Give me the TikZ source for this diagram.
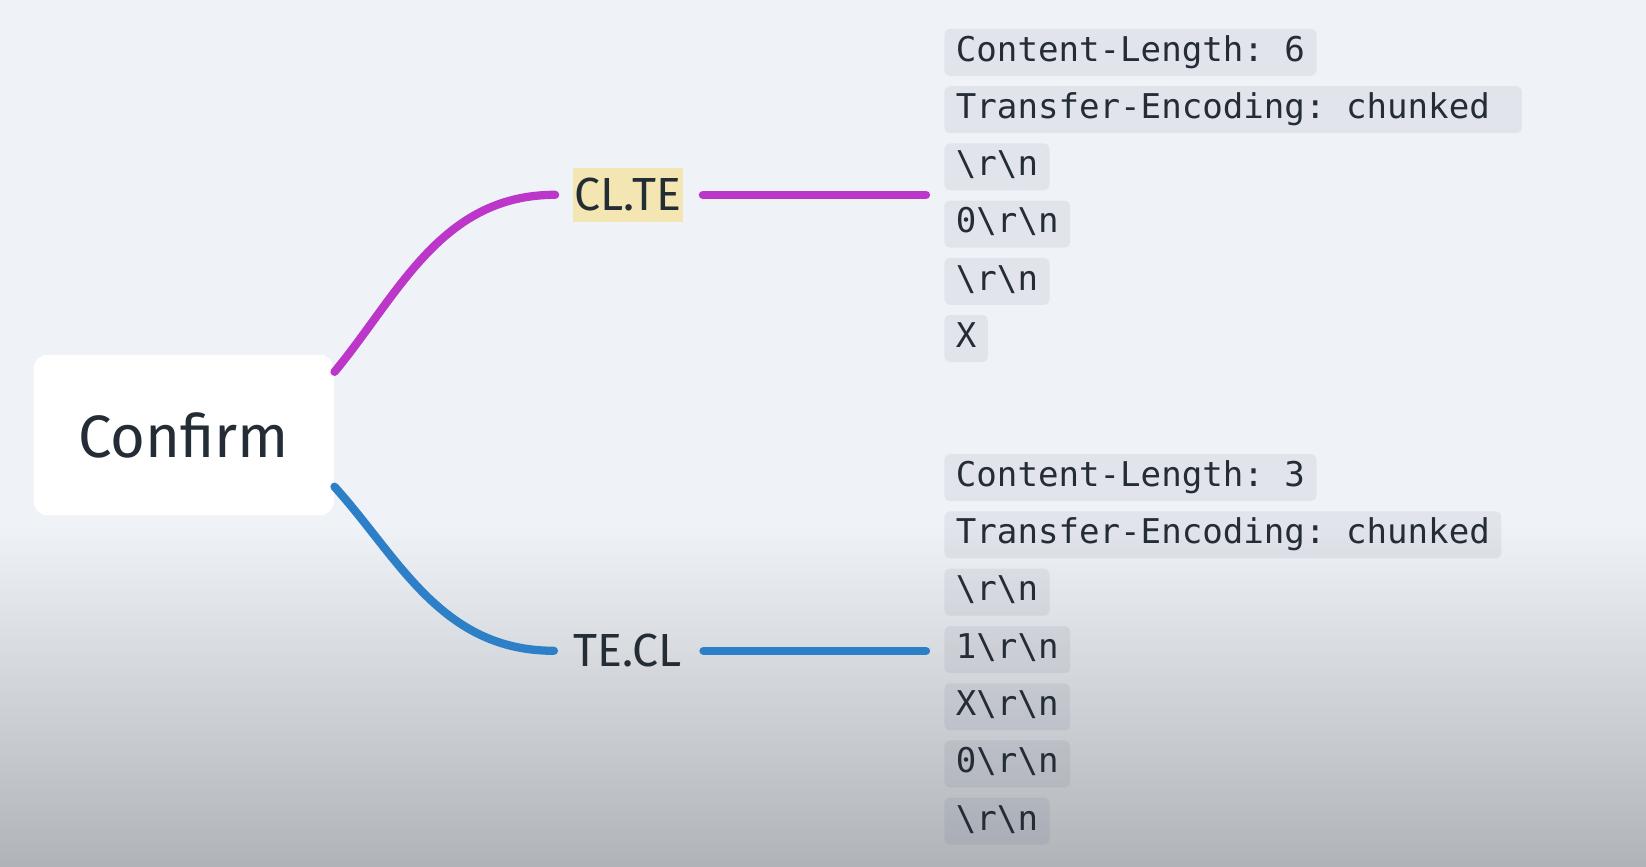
\documentclass[tikz,border=0pt]{standalone}
\usepackage{fontspec}
\setmainfont{Fira Sans}
\newfontfamily\codefont{DejaVu Sans Mono}
\definecolor{bgtop}{RGB}{239,242,246}
\definecolor{bgbot}{RGB}{176,180,185}
\definecolor{ink}{RGB}{36,44,54}
\definecolor{mline}{RGB}{187,54,201}
\definecolor{bline}{RGB}{45,128,200}
\definecolor{hlyel}{RGB}{244,230,178}
\newcommand{\crlf}{\textbackslash r\textbackslash n}
\tikzset{
  vroot/.style={fill=white,rounded corners=4pt,minimum width=3cm,minimum height=1.606cm,font=\fontsize{17}{20}\selectfont,text=ink},
  vbr/.style={inner xsep=0.02cm,inner ysep=0pt,minimum height=0.535cm,font=\fontsize{13.2}{15}\selectfont,text=ink},
  vcode/.style={anchor=west,fill=black!80!blue,fill opacity=0.055,text opacity=1,rounded corners=1.5pt,inner xsep=0.115cm,inner ysep=0pt,minimum height=0.47cm,text height=7pt,text depth=2pt,font=\codefont\fontsize{9.7}{11}\selectfont\frenchspacing,text=ink},
  em/.style={draw=mline,line width=2.35pt,line cap=round},
  eb/.style={draw=bline,line width=2.35pt,line cap=round},
}

\begin{document}
\begin{tikzpicture}[x=0.01cm,y=-0.01cm]
\useasboundingbox (0,0) rectangle (1646,867);
\fill[bgtop] (0,0) rectangle (1646,526);
\shade[top color=bgtop,bottom color=bgbot] (0,525) rectangle (1646,867);
\node[vroot] (croot) at (183.7,435.1) {Confirm};
\node[vbr,fill=hlyel] (clte) at (628,194.8) {CL.TE};
\node[vbr] (tecl) at (627.7,650.8) {TE.CL};
\node[vcode] (ta1) at (943.7,52.5) {Content-Length: 6};
\node[vcode] (ta2) at (943.7,109.7) {Transfer-Encoding: chunked\hphantom{d}};
\node[vcode] (ta3) at (943.7,166.9) {\crlf};
\node[vcode] (ta4) at (943.7,224.1) {0\crlf};
\node[vcode] (ta5) at (943.7,281.3) {\crlf};
\node[vcode] (ta6) at (943.7,338.5) {X};
\node[vcode] (tb1) at (943.7,477.6) {Content-Length: 3};
\node[vcode] (tb2) at (943.7,534.8) {Transfer-Encoding: chunked};
\node[vcode] (tb3) at (943.7,592.2) {\crlf};
\node[vcode] (tb4) at (943.7,649.6) {1\crlf};
\node[vcode] (tb5) at (943.7,706.8) {X\crlf};
\node[vcode] (tb6) at (943.7,764.0) {0\crlf};
\node[vcode] (tb7) at (943.7,821.2) {\crlf};
\coordinate (ms) at ([yshift=-0.178cm]croot.north east);
\coordinate (bs) at ([yshift=0.294cm]croot.south east);
\coordinate (tj) at (926,194.8);
\coordinate (bj) at (926,650.8);
\draw[em] (ms) .. controls (399,294) and (441,194.8) .. ([xshift=-0.17cm]clte.west);
\draw[eb] (bs) .. controls (399,558) and (441,650.8) .. ([xshift=-0.17cm]tecl.west);
\draw[em] ([xshift=0.19cm]clte.east) -- (tj);
\draw[eb] ([xshift=0.19cm]tecl.east) -- (bj);
\end{tikzpicture}
\end{document}
